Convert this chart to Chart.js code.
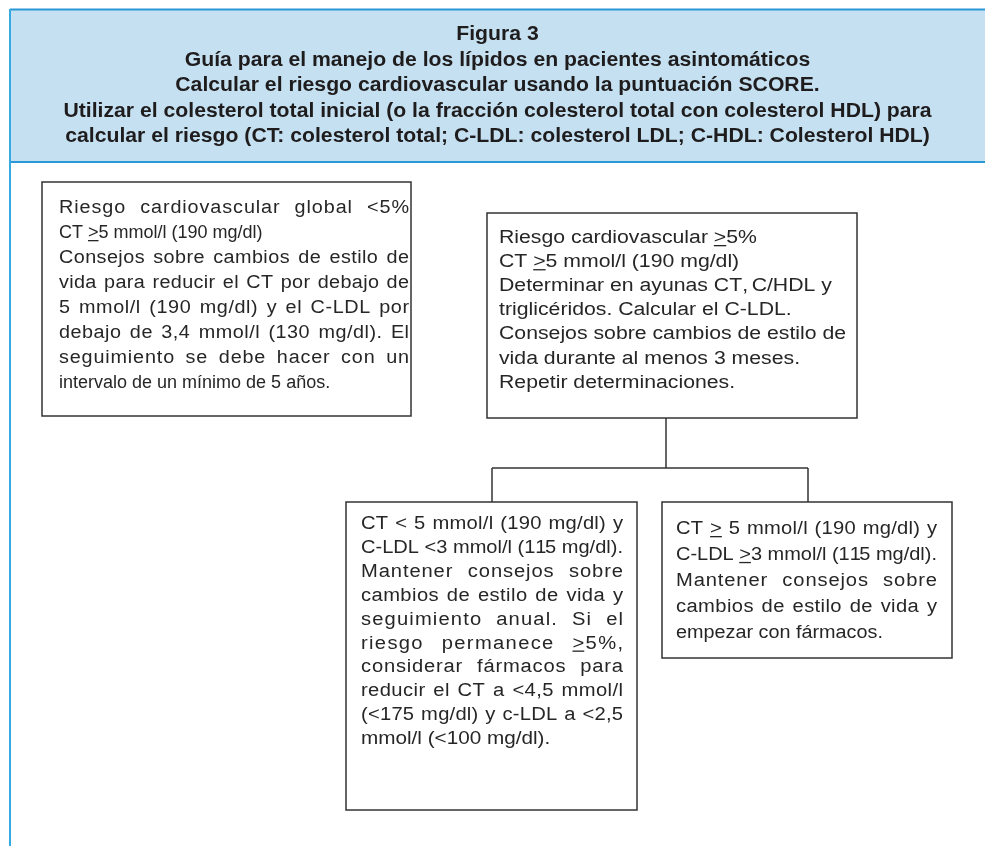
<!DOCTYPE html>
<html>
<head>
<meta charset="utf-8">
<script src="https://cdn.jsdelivr.net/npm/chart.js@4/dist/chart.umd.min.js"></script>
<style>
  html, body { margin: 0; padding: 0; background: #fff; }
  canvas { display: block; }
</style>
</head>
<body>
<canvas id="flow" width="985" height="846"></canvas>
<script>
// texts of the figure (≥ is drawn as an underlined ">")
const titleLines = [
  "Figura 3",
  "Guía para el manejo de los lípidos en pacientes asintomáticos",
  "Calcular el riesgo cardiovascular usando la puntuación SCORE.",
  "Utilizar el colesterol total inicial (o la fracción colesterol total con colesterol HDL) para",
  "calcular el riesgo (CT: colesterol total; C-LDL: colesterol LDL; C-HDL: Colesterol HDL)"
];
const lowRiskLines = [
  "Riesgo cardiovascular global <5%",
  "CT ≥5 mmol/l (190 mg/dl)",
  "Consejos sobre cambios de estilo de",
  "vida para reducir el CT por debajo de",
  "5 mmol/l (190 mg/dl) y el C-LDL por",
  "debajo de 3,4 mmol/l (130 mg/dl). El",
  "seguimiento se debe hacer con un",
  "intervalo de un mínimo de 5 años."
];
const highRiskLines = [
  "Riesgo cardiovascular ≥5%",
  "CT ≥5 mmol/l (190 mg/dl)",
  "Determinar en ayunas CT, C/HDL y",
  "triglicéridos. Calcular el C-LDL.",
  "Consejos sobre cambios de estilo de",
  "vida durante al menos 3 meses.",
  "Repetir determinaciones."
];
const onTargetLines = [
  "CT < 5 mmol/l (190 mg/dl) y",
  "C-LDL <3 mmol/l (115 mg/dl).",
  "Mantener consejos sobre",
  "cambios de estilo de vida y",
  "seguimiento anual. Si el",
  "riesgo permanece ≥5%,",
  "considerar fármacos para",
  "reducir el CT a <4,5 mmol/l",
  "(<175 mg/dl) y c-LDL a <2,5",
  "mmol/l (<100 mg/dl)."
];
const offTargetLines = [
  "CT ≥ 5 mmol/l (190 mg/dl) y",
  "C-LDL ≥3 mmol/l (115 mg/dl).",
  "Mantener consejos sobre",
  "cambios de estilo de vida y",
  "empezar con fármacos."
];

// layout in figure units (the chart scales map them to pixels)
const boxes = [
  { lines: lowRiskLines, x0: 42, x1: 411, y0: 182, y1: 416, tx0: 59, tx1: 409, base: 213, step: 25, hs: 1.1, hsLast: 1.0,
    justify: [1, 0, 1, 1, 1, 1, 1, 0] },
  { lines: highRiskLines, x0: 487, x1: 857, y0: 213, y1: 418, tx0: 499, tx1: 845, base: 243, step: 24.1, hs: 1.18, hsLast: 1.18,
    justify: [0, 0, 0, 0, 0, 0, 0] },
  { lines: onTargetLines, x0: 346, x1: 637, y0: 502, y1: 810, tx0: 361, tx1: 623, base: 529, step: 23.9, hs: 1.12, hsLast: 1.15,
    justify: [1, 1, 1, 1, 1, 1, 1, 1, 1, 0] },
  { lines: offTargetLines, x0: 662, x1: 952, y0: 502, y1: 658, tx0: 676, tx1: 937, base: 534, step: 25.9, hs: 1.12, hsLast: 1.1,
    justify: [1, 1, 1, 1, 0] }
];
const connectors = [
  [[666, 418], [666, 468]],
  [[492, 468], [808, 468]],
  [[492, 468], [492, 502]],
  [[808, 468], [808, 502]]
];

const bodyFont = '18px "Liberation Sans", Arial, sans-serif';
const titleFont = 'bold 20px "Liberation Sans", Arial, sans-serif';
const inkColor = "#262626";

function drawLine(ctx, raw, x, y, width, justify, hs) {
  const under = [];
  let txt = "";
  for (const c of raw) {
    if (c === "≥") { under.push(txt.length); txt += ">"; } else txt += c;
  }
  const chars = [...txt];
  const nat = ctx.measureText(txt).width * hs;
  let sx = hs, ls = 0, ws = 0;
  if (justify) {
    const extra = width - nat;
    if (extra < 0) {
      sx = hs * width / nat;
    } else {
      const nSp = chars.filter(c => c === " ").length;
      ws = nSp ? extra * 0.45 / nSp : 0;
      ls = extra * (nSp ? 0.55 : 1) / (chars.length - 1);
    }
  }
  let sp = 0;
  chars.forEach((c, i) => {
    const px = x + ctx.measureText(txt.slice(0, i)).width * sx + i * ls + sp * ws;
    if (c === " ") sp++;
    ctx.save();
    ctx.translate(px, y);
    ctx.scale(sx, 1);
    ctx.fillText(c, 0, 0);
    ctx.restore();
    if (under.includes(i)) {
      ctx.fillRect(px, y + 2, ctx.measureText(">").width * sx, 1.3);
    }
  });
}

const flowPlugin = {
  id: "flow",
  afterDraw(chart) {
    const ctx = chart.ctx;
    const X = v => chart.scales.x.getPixelForValue(v);
    const Y = v => chart.scales.y.getPixelForValue(v);
    ctx.save();

    // header band
    ctx.fillStyle = "#c4e0f1";
    ctx.fillRect(X(10), Y(10), X(985) - X(10), Y(162) - Y(10));
    ctx.strokeStyle = "#2a98d6";
    ctx.lineWidth = 2;
    ctx.beginPath();
    ctx.moveTo(X(10), Y(9.5)); ctx.lineTo(X(985), Y(9.5));
    ctx.moveTo(X(10), Y(162)); ctx.lineTo(X(985), Y(162));
    ctx.stroke();
    ctx.strokeStyle = "#38aae3";
    ctx.beginPath();
    ctx.moveTo(X(10), Y(9)); ctx.lineTo(X(10), Y(846));
    ctx.stroke();

    ctx.fillStyle = "#1f1c1d";
    ctx.font = titleFont;
    ctx.textAlign = "center";
    ctx.textBaseline = "alphabetic";
    titleLines.forEach((t, i) => {
      ctx.save();
      ctx.translate(X(497.5), Y(40 + i * 25.5));
      ctx.scale(1.06, 1);
      ctx.fillText(t, 0, 0);
      ctx.restore();
    });

    // connectors
    ctx.strokeStyle = "#333";
    ctx.lineWidth = 1.5;
    connectors.forEach(seg => {
      ctx.beginPath();
      ctx.moveTo(X(seg[0][0]), Y(seg[0][1]));
      ctx.lineTo(X(seg[1][0]), Y(seg[1][1]));
      ctx.stroke();
    });

    // boxes
    ctx.font = bodyFont;
    ctx.textAlign = "left";
    boxes.forEach(b => {
      ctx.fillStyle = "#fff";
      ctx.fillRect(X(b.x0), Y(b.y0), X(b.x1) - X(b.x0), Y(b.y1) - Y(b.y0));
      ctx.strokeStyle = "#333";
      ctx.lineWidth = 1.5;
      ctx.strokeRect(X(b.x0), Y(b.y0), X(b.x1) - X(b.x0), Y(b.y1) - Y(b.y0));
      ctx.fillStyle = inkColor;
      b.lines.forEach((t, i) => {
        const j = b.justify[i];
        drawLine(ctx, t, X(b.tx0), Y(b.base + i * b.step), X(b.tx1) - X(b.tx0), j, j ? b.hs : b.hsLast);
      });
    });
    ctx.restore();
  }
};

new Chart(document.getElementById("flow"), {
  type: "scatter",
  data: { datasets: [] },
  options: {
    responsive: false,
    animation: false,
    events: [],
    layout: { padding: 0 },
    plugins: { legend: { display: false }, tooltip: { enabled: false } },
    scales: {
      x: { type: "linear", min: 0, max: 985, display: false },
      y: { type: "linear", min: 0, max: 846, reverse: true, display: false }
    }
  },
  plugins: [flowPlugin]
});
</script>
</body>
</html>
